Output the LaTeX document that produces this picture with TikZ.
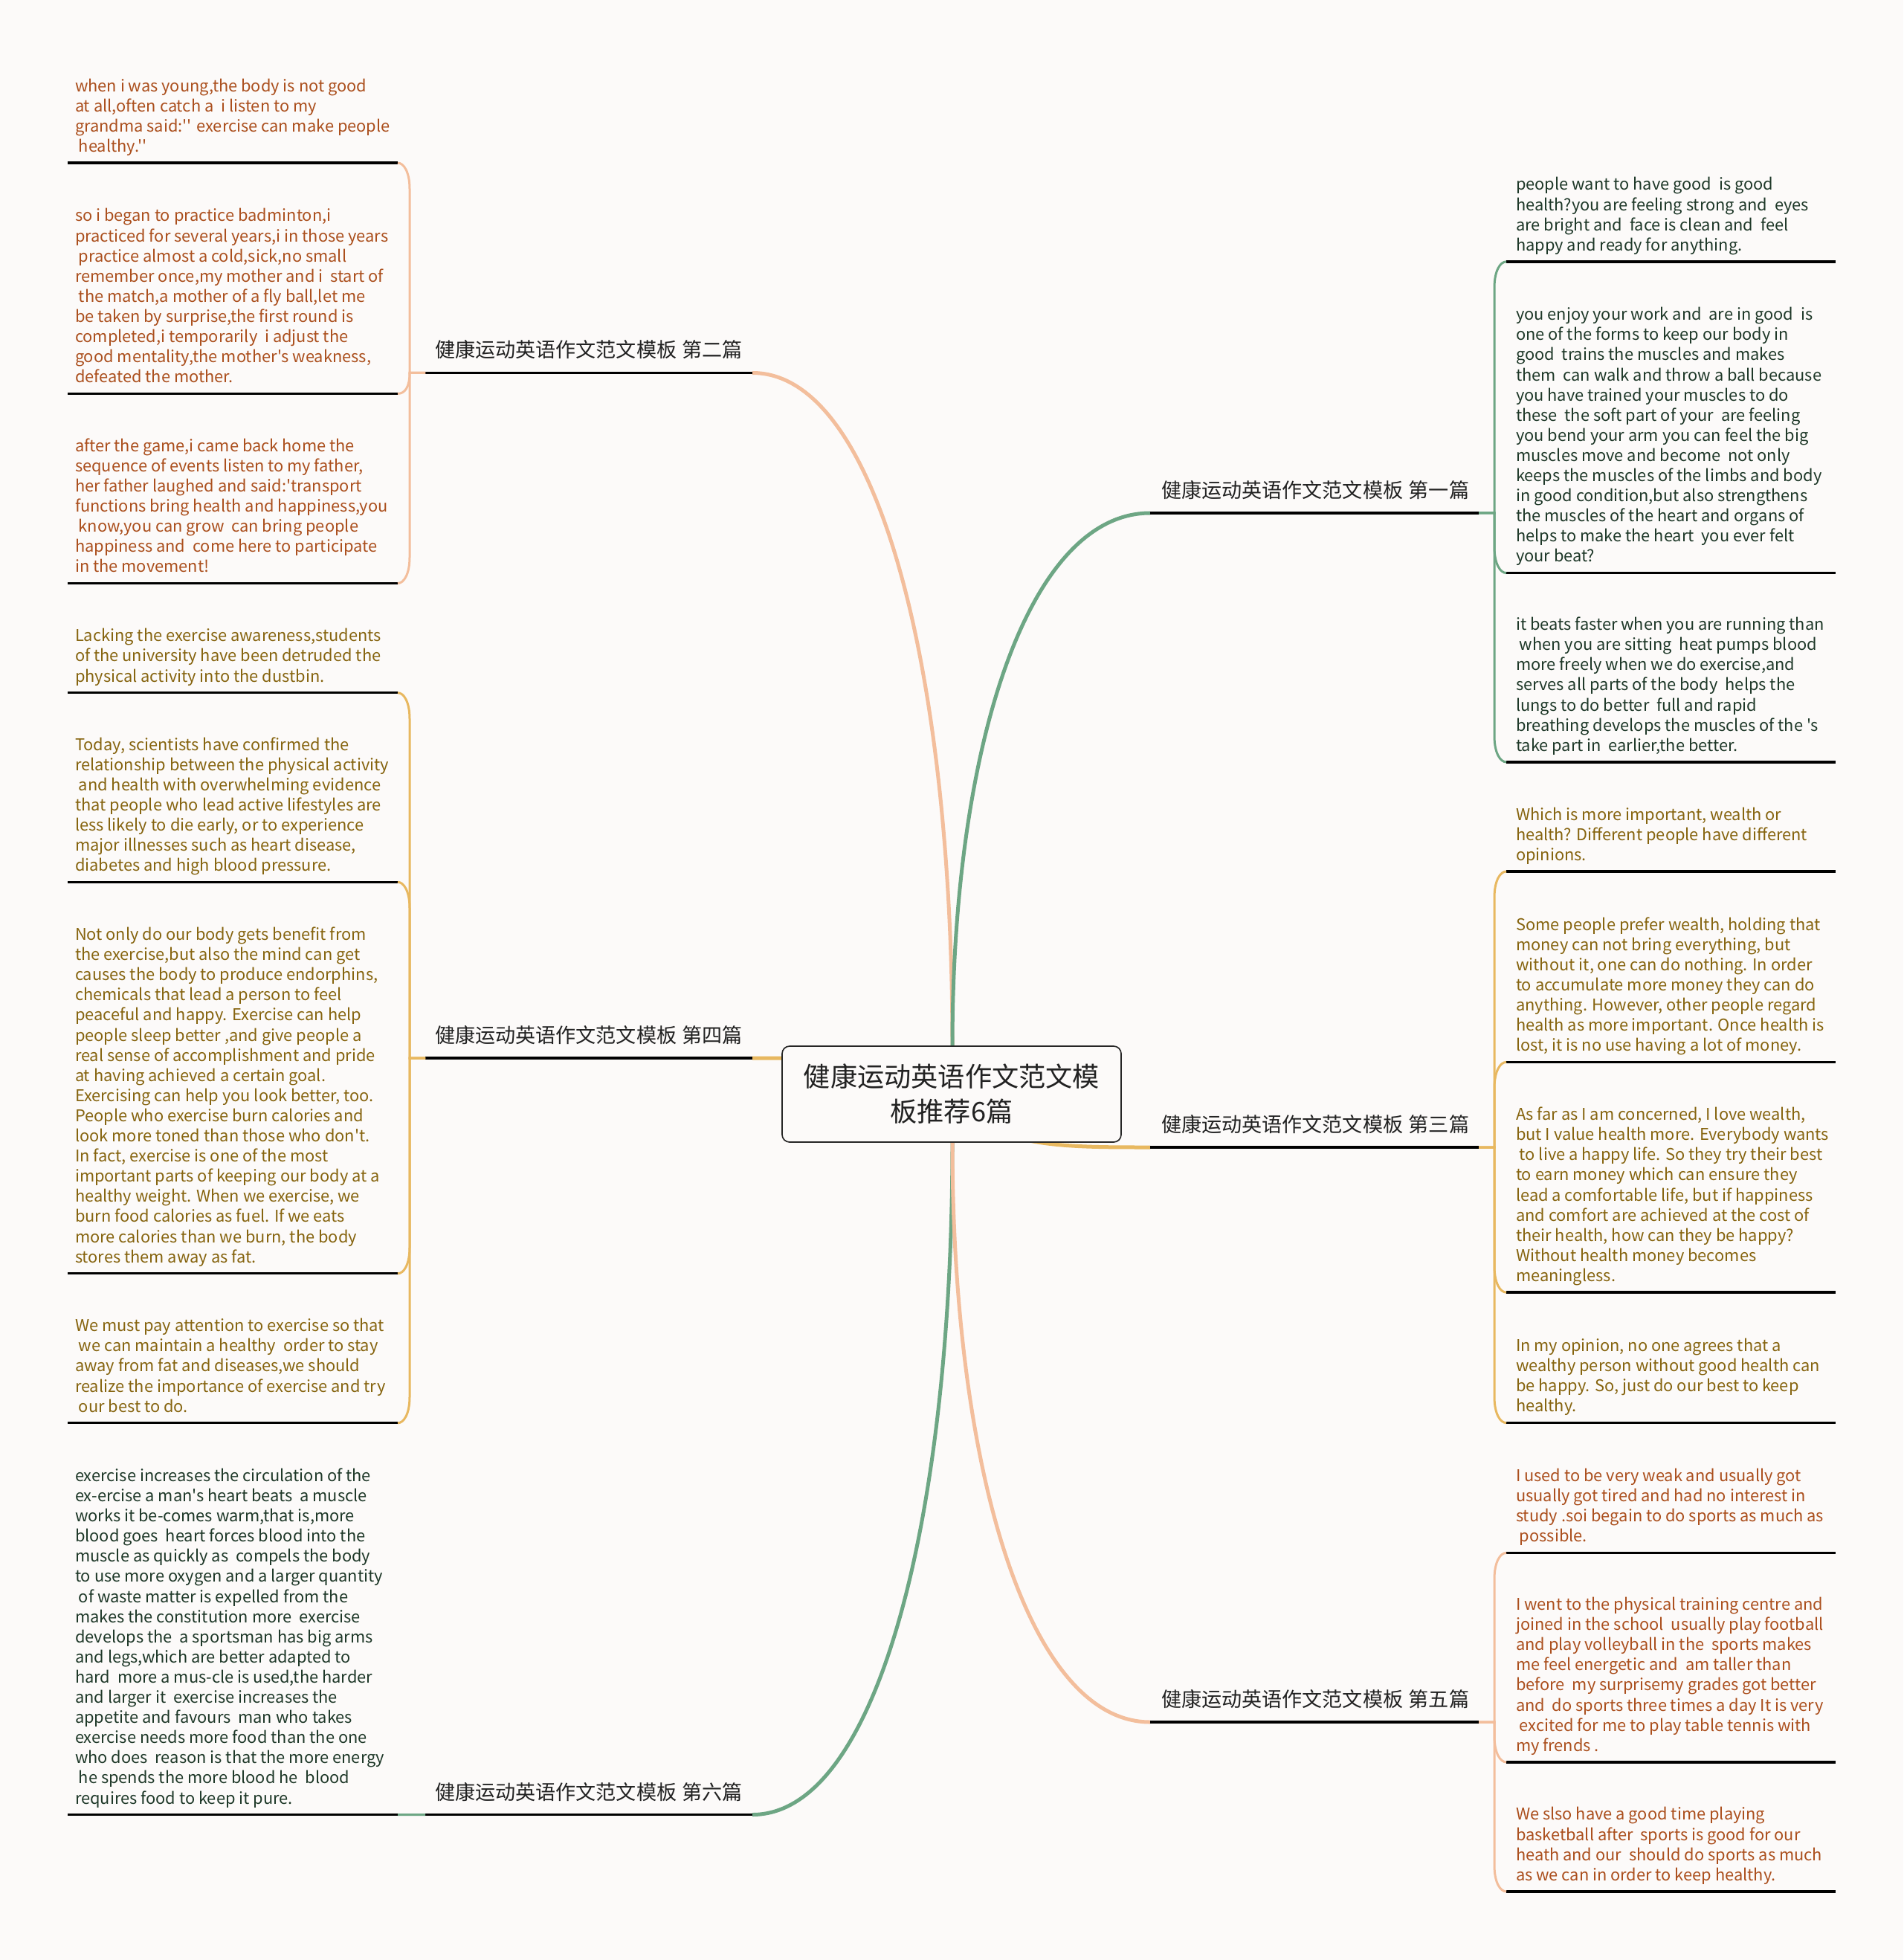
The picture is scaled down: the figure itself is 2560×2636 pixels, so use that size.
\documentclass[tikz,border=0pt]{standalone}
\usepackage{fontspec}
\newfontfamily\nf{Noto Sans CJK SC}
\definecolor{bg}{HTML}{FCFAF9}
\definecolor{corange}{HTML}{F3BE9C}
\definecolor{cgreen}{HTML}{6DA684}
\definecolor{cyellow}{HTML}{E8B860}
\definecolor{torange}{HTML}{AB4F1D}
\definecolor{tyellow}{HTML}{86640F}
\definecolor{tgreen}{HTML}{1E3828}
\definecolor{tlabel}{HTML}{222222}
\pgfdeclarelayer{back}
\pgfdeclarelayer{conn}
\pgfsetlayers{back,conn,main}
\newcommand{\sep}{\hspace{0.28em}}
\tikzset{
  leaf/.style={anchor=north west, inner sep=0pt, outer sep=0pt, align=left,
    font=\nf\fontsize{6.55}{8.13}\selectfont},
  lab/.style={anchor=base west, inner sep=0pt, outer sep=0pt,
    font=\nf\fontsize{8.13}{10}\selectfont, text=tlabel},
  uline/.style={line width=1pt, draw=black},
  mainc/.style={line width=1.5pt},
  br/.style={line width=0.9pt},
  centre/.style={draw=black!85, fill=bg, rounded corners=3pt, line width=0.5pt,
    minimum width=136.8pt, minimum height=38.7pt, align=center, inner sep=0pt,
    font=\nf\fontsize{10.86}{14.1}\selectfont, text=tlabel}
}
\begin{document}
\begin{tikzpicture}[x=0.3pt,y=-0.3pt]
\begin{pgfonlayer}{back}
\fill[bg] (0,0) rectangle (2560,2636);
\end{pgfonlayer}
\useasboundingbox (0,0) rectangle (2560,2636);

% centre
\node[centre] (C) at (1280,1471.5) {健康运动英语作文范文模\\板推荐6篇};

% branch labels
\node[lab] (B2) at (585,481) {健康运动英语作文范文模板\sep 第二篇};
\node[lab] (B4) at (585,1402.5) {健康运动英语作文范文模板\sep 第四篇};
\node[lab] (B6) at (585,2420) {健康运动英语作文范文模板\sep 第六篇};
\node[lab] (B1) at (1562,669.5) {健康运动英语作文范文模板\sep 第一篇};
\node[lab] (B3) at (1562,1522.5) {健康运动英语作文范文模板\sep 第三篇};
\node[lab] (B5) at (1562,2295.5) {健康运动英语作文范文模板\sep 第五篇};

\coordinate (A2l) at (572,501.5);  \coordinate (A2r) at (1012,501.5);
\coordinate (A4l) at (572,1423);   \coordinate (A4r) at (1012,1423);
\coordinate (A6l) at (572,2440.5); \coordinate (A6r) at (1012,2440.5);
\coordinate (A1l) at (1547,690);   \coordinate (A1r) at (1989,690);
\coordinate (A3l) at (1547,1543);  \coordinate (A3r) at (1989,1543);
\coordinate (A5l) at (1547,2316);  \coordinate (A5r) at (1989,2316);
\foreach \a in {2,4,6,1,3,5} \draw[uline] (A\a l) -- (A\a r);

% left leaves
\node[leaf,text=torange] (L1) at (101,104.2) {\strut when i was young,the body is not good\\at all,often catch a \ i listen to my\\grandma said:'' exercise can make people\\\ healthy.''};
\node[leaf,text=torange] (L2) at (101,279) {\strut so i began to practice badminton,i\\practiced for several years,i in those years\\\ practice almost a cold,sick,no small\\remember once,my mother and i \ start of\\\ the match,a mother of a fly ball,let me\\be taken by surprise,the first round is\\completed,i temporarily \ i adjust the\\good mentality,the mother's weakness,\\defeated the mother.};
\node[leaf,text=torange] (L3) at (101,588.3) {\strut after the game,i came back home the\\sequence of events listen to my father,\\her father laughed and said:'transport\\functions bring health and happiness,you\\\ know,you can grow \ can bring people\\happiness and \ come here to participate\\in the movement!};
\node[leaf,text=tyellow] (L4) at (101,843.9) {\strut Lacking the exercise awareness,students\\of the university have been detruded the\\physical activity into the dustbin.};
\node[leaf,text=tyellow] (L5) at (101,990.1) {\strut Today, scientists have confirmed the\\relationship between the physical activity\\\ and health with overwhelming evidence\\that people who lead active lifestyles are\\less likely to die early, or to experience\\major illnesses such as heart disease,\\diabetes and high blood pressure.};
\node[leaf,text=tyellow] (L6) at (101,1245.6) {\strut Not only do our body gets benefit from\\the exercise,but also the mind can get\\causes the body to produce endorphins,\\chemicals that lead a person to feel\\peaceful and happy. Exercise can help\\people sleep better ,and give people a\\real sense of accomplishment and pride\\at having achieved a certain goal.\\Exercising can help you look better, too.\\People who exercise burn calories and\\look more toned than those who don't.\\In fact, exercise is one of the most\\important parts of keeping our body at a\\healthy weight. When we exercise, we\\burn food calories as fuel. If we eats\\more calories than we burn, the body\\stores them away as fat.};
\node[leaf,text=tyellow] (L7) at (101,1771.8) {\strut We must pay attention to exercise so that\\\ we can maintain a healthy \ order to stay\\away from fat and diseases,we should\\realize the importance of exercise and try\\\ our best to do.};
\node[leaf,text=tgreen] (L8) at (101,1973.5) {\strut exercise increases the circulation of the\\ex-ercise a man's heart beats \ a muscle\\works it be-comes warm,that is,more\\blood goes \ heart forces blood into the\\muscle as quickly as \ compels the body\\to use more oxygen and a larger quantity\\\ of waste matter is expelled from the\\makes the constitution more \ exercise\\develops the \ a sportsman has big arms\\and legs,which are better adapted to\\hard \ more a mus-cle is used,the harder\\and larger it \ exercise increases the\\appetite and favours \ man who takes\\exercise needs more food than the one\\who does \ reason is that the more energy\\\ he spends the more blood he \ blood\\requires food to keep it pure.};

% right leaves
\node[leaf,text=tgreen] (R1) at (2039,237) {\strut people want to have good \ is good\\health?you are feeling strong and \ eyes\\are bright and \ face is clean and \ feel\\happy and ready for anything.};
\node[leaf,text=tgreen] (R2) at (2039,411.8) {\strut you enjoy your work and \ are in good \ is\\one of the forms to keep our body in\\good \ trains the muscles and makes\\them \ can walk and throw a ball because\\you have trained your muscles to do\\these \ the soft part of your \ are feeling\\you bend your arm you can feel the big\\muscles move and become \ not only\\keeps the muscles of the limbs and body\\in good condition,but also strengthens\\the muscles of the heart and organs of\\helps to make the heart \ you ever felt\\your beat?};
\node[leaf,text=tgreen] (R3) at (2039,828.7) {\strut it beats faster when you are running than\\\ when you are sitting \ heat pumps blood\\more freely when we do exercise,and\\serves all parts of the body \ helps the\\lungs to do better \ full and rapid\\breathing develops the muscles of the 's\\take part in \ earlier,the better.};
\node[leaf,text=tyellow] (R4) at (2039,1084.2) {\strut Which is more important, wealth or\\health? Different people have different\\opinions.};
\node[leaf,text=tyellow] (R5) at (2039,1232.2) {\strut Some people prefer wealth, holding that\\money can not bring everything, but\\without it, one can do nothing. In order\\to accumulate more money they can do\\anything. However, other people regard\\health as more important. Once health is\\lost, it is no use having a lot of money.};
\node[leaf,text=tyellow] (R6) at (2039,1487.7) {\strut As far as I am concerned, I love wealth,\\but I value health more. Everybody wants\\\ to live a happy life. So they try their best\\to earn money which can ensure they\\lead a comfortable life, but if happiness\\and comfort are achieved at the cost of\\their health, how can they be happy?\\Without health money becomes\\meaningless.};
\node[leaf,text=tyellow] (R7) at (2039,1798.7) {\strut In my opinion, no one agrees that a\\wealthy person without good health can\\be happy. So, just do our best to keep\\healthy.};
\node[leaf,text=torange] (R8) at (2039,1973.5) {\strut I used to be very weak and usually got\\usually got tired and had no interest in\\study .soi begain to do sports as much as\\\ possible.};
\node[leaf,text=torange] (R9) at (2039,2146.6) {\strut I went to the physical training centre and\\joined in the school \ usually play football\\and play volleyball in the \ sports makes\\me feel energetic and \ am taller than\\before \ my surprisemy grades got better\\and \ do sports three times a day It is very\\\ excited for me to play table tennis with\\my frends .};
\node[leaf,text=torange] (R10) at (2039,2429) {\strut We slso have a good time playing\\basketball after \ sports is good for our\\heath and our \ should do sports as much\\as we can in order to keep healthy.};

% leaf underlines (end points used by connectors)
\foreach \n/\y in {1/219.1,2/529.4,3/784.5,4/931.7,5/1186.3,6/1712.8,7/1913.8,8/2440.7}{
  \coordinate (L\n s) at (91,\y); \coordinate (L\n e) at (535,\y);
  \draw[uline] (L\n s) -- (L\n e);
}
\foreach \n/\y in {1/351.9,2/770.6,3/1024.9,4/1172,5/1428.4,6/1738.1,7/1913.6,8/2088.4,9/2369.9,10/2543.9}{
  \coordinate (R\n s) at (2026,\y); \coordinate (R\n e) at (2469,\y);
  \draw[uline] (R\n s) -- (R\n e);
}

\begin{pgfonlayer}{conn}
% centre to branches
\draw[mainc,corange] (C.center) -- (1281,1407) .. controls (1281,900) and (1180,501.5) .. (A2r);
\draw[mainc,cgreen] (C.center) -- (1281,1407) .. controls (1281,1005) and (1382,690) .. (A1l);
\draw[mainc,cgreen] (C.center) -- (1281,1536) .. controls (1281,2042) and (1180,2440.5) .. (A6r);
\draw[mainc,corange] (C.center) -- (1281,1536) .. controls (1281,1973) and (1382,2316) .. (A5l);
\draw[mainc,cyellow] (C.center) .. controls (1330,1543) and (1420,1543) .. (A3l);
\draw[mainc,cyellow] (C.center) .. controls (1150,1423) and (1100,1423) .. (A4r);
\end{pgfonlayer}

% brackets, left
\draw[br,corange] (A2l) -- (551,501.5) -- (551,254.1) .. controls (551,231.1) and (543,219.1) .. (L1e);
\draw[br,corange] (A2l) -- (551,501.5) .. controls (551,520) and (545,529.4) .. (L2e);
\draw[br,corange] (A2l) -- (551,501.5) -- (551,749.5) .. controls (551,772.5) and (543,784.5) .. (L3e);

\draw[br,cyellow] (A4l) -- (551,1423) -- (551,966.7) .. controls (551,943.7) and (543,931.7) .. (L4e);
\draw[br,cyellow] (A4l) -- (551,1423) -- (551,1221.3) .. controls (551,1198.3) and (543,1186.3) .. (L5e);
\draw[br,cyellow] (A4l) -- (551,1423) -- (551,1677.8) .. controls (551,1700.8) and (543,1712.8) .. (L6e);
\draw[br,cyellow] (A4l) -- (551,1423) -- (551,1878.8) .. controls (551,1901.8) and (543,1913.8) .. (L7e);

\draw[br,cgreen] (A6l) -- (L8e);

% brackets, right
\draw[br,cgreen] (A1r) -- (2010,690) -- (2010,386.9) .. controls (2010,363.9) and (2018,351.9) .. (R1s);
\draw[br,cgreen] (A1r) -- (2010,690) -- (2010,735.6) .. controls (2010,758.6) and (2018,770.6) .. (R2s);
\draw[br,cgreen] (A1r) -- (2010,690) -- (2010,989.9) .. controls (2010,1012.9) and (2018,1024.9) .. (R3s);

\draw[br,cyellow] (A3r) -- (2010,1543) -- (2010,1207) .. controls (2010,1184) and (2018,1172) .. (R4s);
\draw[br,cyellow] (A3r) -- (2010,1543) -- (2010,1463.4) .. controls (2010,1440.4) and (2018,1428.4) .. (R5s);
\draw[br,cyellow] (A3r) -- (2010,1543) -- (2010,1703.1) .. controls (2010,1726.1) and (2018,1738.1) .. (R6s);
\draw[br,cyellow] (A3r) -- (2010,1543) -- (2010,1878.6) .. controls (2010,1901.6) and (2018,1913.6) .. (R7s);

\draw[br,corange] (A5r) -- (2010,2316) -- (2010,2123.4) .. controls (2010,2100.4) and (2018,2088.4) .. (R8s);
\draw[br,corange] (A5r) -- (2010,2316) -- (2010,2334.9) .. controls (2010,2357.9) and (2018,2369.9) .. (R9s);
\draw[br,corange] (A5r) -- (2010,2316) -- (2010,2508.9) .. controls (2010,2531.9) and (2018,2543.9) .. (R10s);
\end{tikzpicture}
\end{document}
